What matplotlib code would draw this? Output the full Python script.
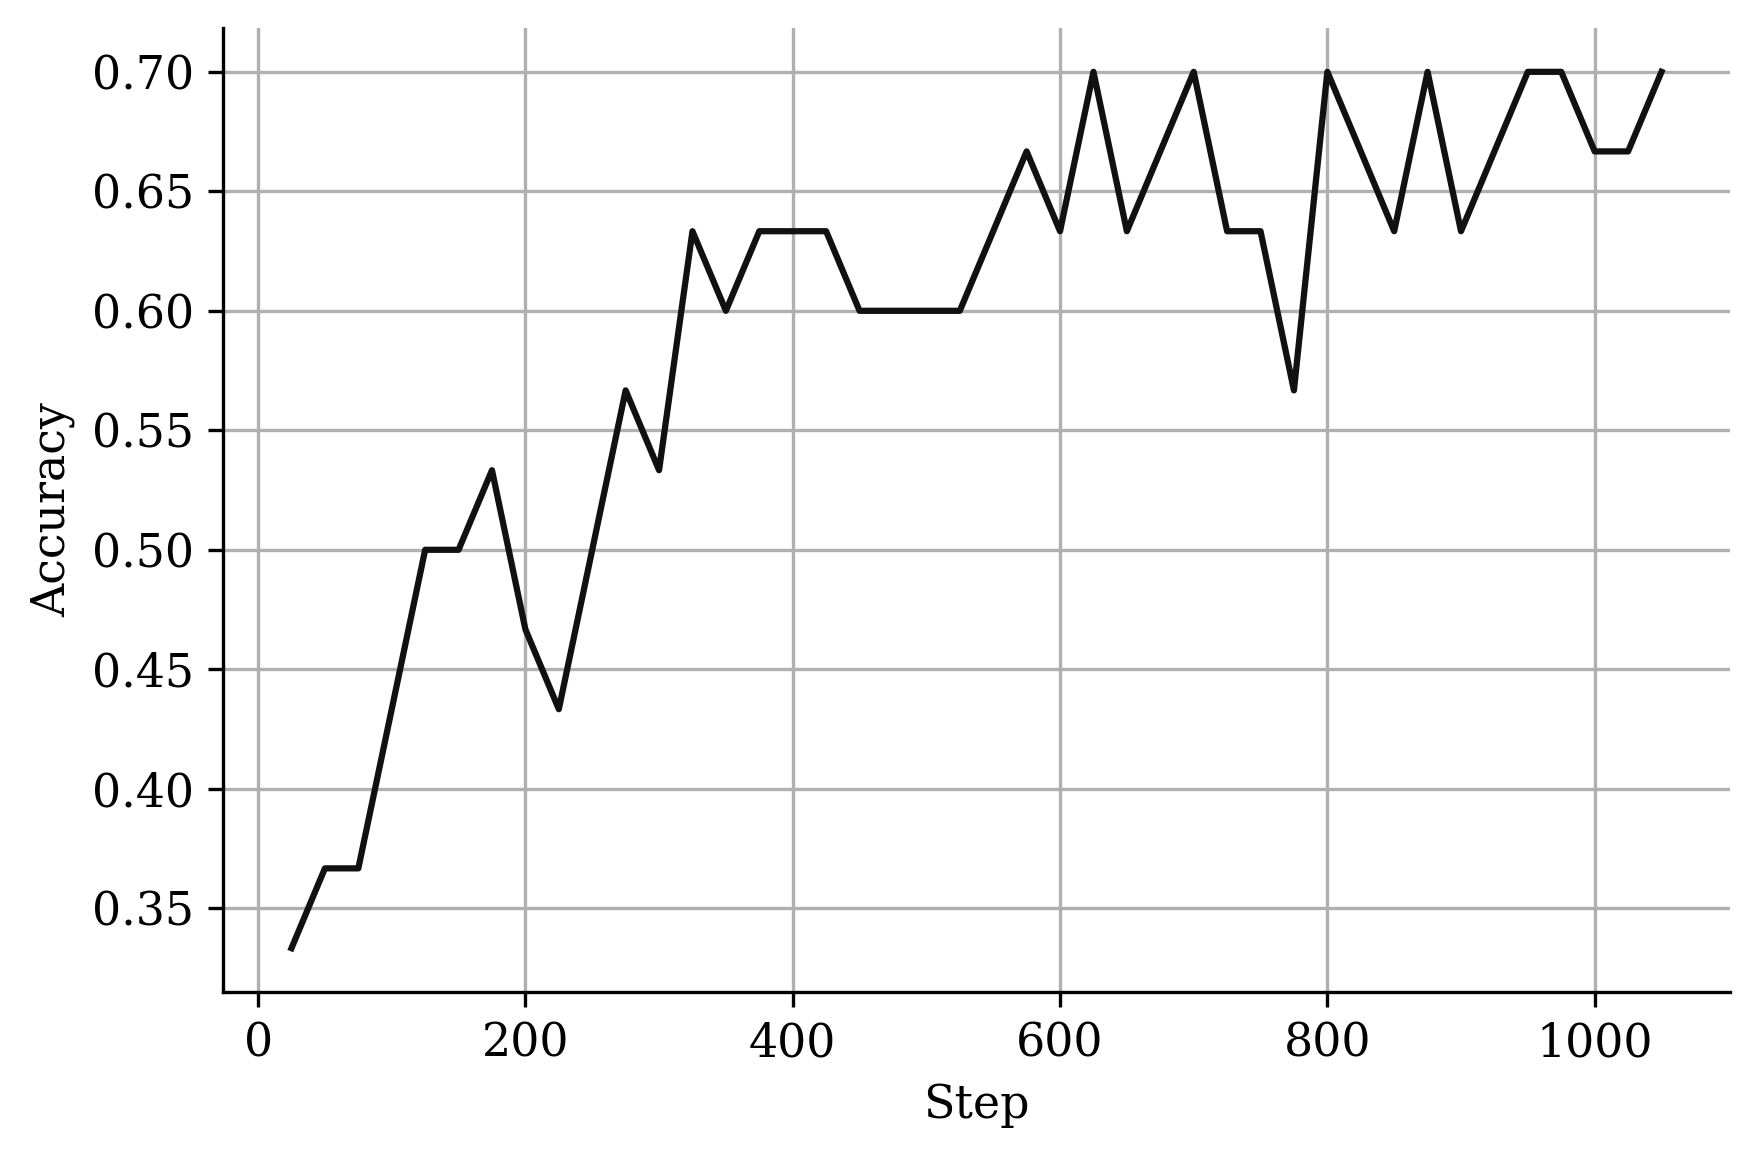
import matplotlib
matplotlib.use("Agg")
import matplotlib.pyplot as plt

steps = list(range(25, 1051, 25))
accuracy = [0.3333, 0.3667, 0.3667, 0.4333, 0.5, 0.5, 0.5333, 0.4667, 0.4333, 0.5,
            0.5667, 0.5333, 0.6333, 0.6, 0.6333, 0.6333, 0.6333, 0.6, 0.6, 0.6,
            0.6, 0.6333, 0.6667, 0.6333, 0.7, 0.6333, 0.6667, 0.7, 0.6333, 0.6333,
            0.5667, 0.7, 0.6667, 0.6333, 0.7, 0.6333, 0.6667, 0.7, 0.7, 0.6667,
            0.6667, 0.7]

plt.rcParams['font.family'] = ['DejaVu Serif']
W, H = 1759, 1158
fig = plt.figure(figsize=(W/300, H/300), dpi=300)
L, R, T, B = 223, 1730, 28, 992
ax = fig.add_axes([L/W, 1-B/H, (R-L)/W, (B-T)/H])
ax.plot(steps, accuracy, color='#111111', linewidth=1.5, zorder=3)
ax.grid(True, color='#b0b0b0', linewidth=0.8)
ax.spines['top'].set_visible(False)
ax.spines['right'].set_visible(False)
ax.tick_params(labelsize=11)
ax.set_xlabel('Step', fontsize=11)
ax.set_ylabel('Accuracy', fontsize=11)
fig.savefig('out.png', dpi=300)
